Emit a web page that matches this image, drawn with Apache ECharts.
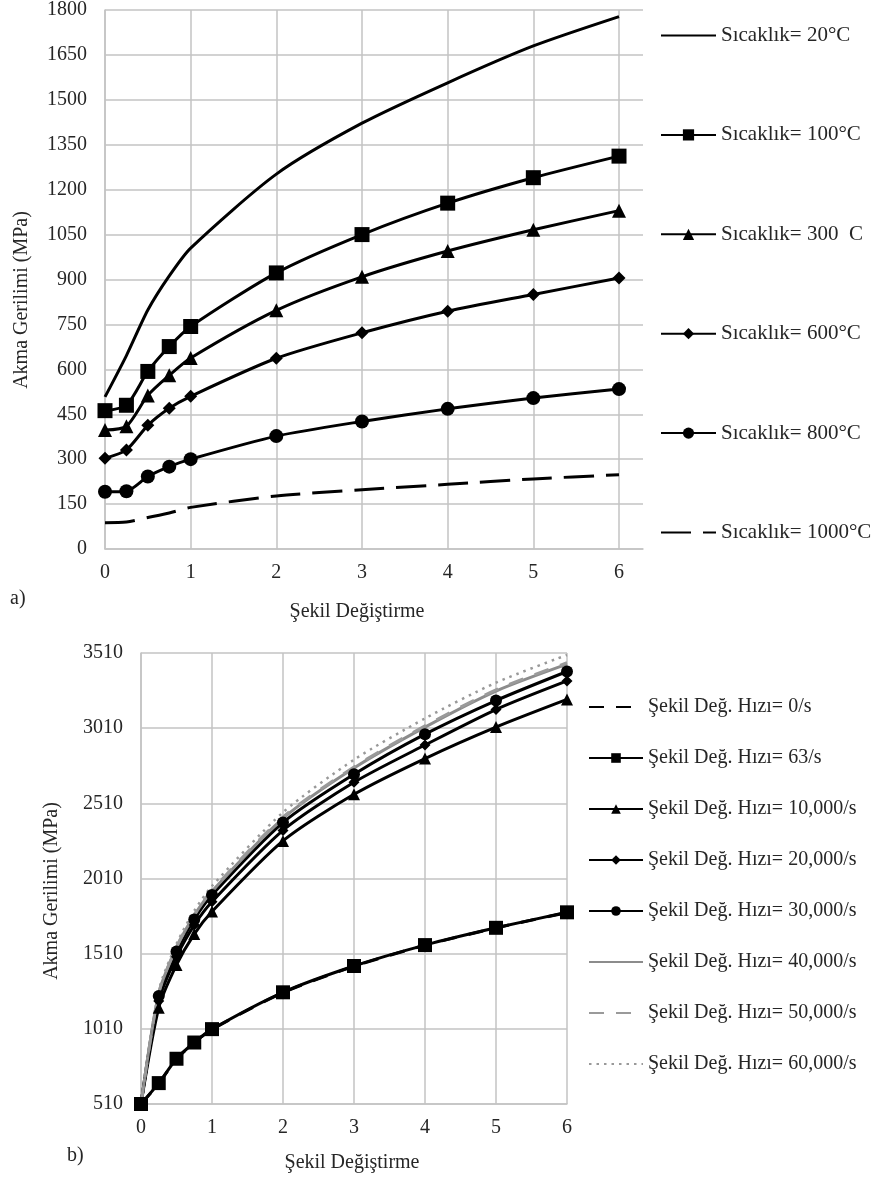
<!DOCTYPE html>
<html>
<head>
<meta charset="utf-8">
<script src="https://cdn.jsdelivr.net/npm/echarts@6/dist/echarts.min.js"></script>
<style>
  html, body { margin: 0; padding: 0; background: #fff; }
  #chart { width: 877px; height: 1180px; }
</style>
</head>
<body>
<div id="chart"></div>
<script>
// ---------- Data: panel a) ----------
const strainA = [0, 0.25, 0.5, 0.75, 1, 2, 3, 4, 5, 6];
const namesA = ['Sıcaklık= 20°C', 'Sıcaklık= 100°C', 'Sıcaklık= 300  C', 'Sıcaklık= 600°C', 'Sıcaklık= 800°C', 'Sıcaklık= 1000°C'];
const temp20 = [508, 646, 798, 912, 1005, 1252, 1422, 1557, 1680, 1778];
const temp100 = [462, 480, 593, 676, 743, 922, 1050, 1155, 1240, 1312];
const temp300 = [397, 410, 513, 580, 638, 797, 909, 995, 1066, 1130];
const temp600 = [303, 331, 413, 470, 510, 637, 722, 794, 850, 905];
const temp800 = [191, 193, 242, 275, 300, 377, 426, 468, 504, 534];
const temp1000 = [88, 90, 105, 120, 139, 177, 198, 216, 234, 248];
const xTicksA = [0, 1, 2, 3, 4, 5, 6];
const yTicksA = [0, 150, 300, 450, 600, 750, 900, 1050, 1200, 1350, 1500, 1650, 1800];

// ---------- Data: panel b) ----------
const strainB = [0, 0.25, 0.5, 0.75, 1, 2, 3, 4, 5, 6];
const namesB = ['Şekil Değ. Hızı= 0/s', 'Şekil Değ. Hızı= 63/s', 'Şekil Değ. Hızı= 10,000/s', 'Şekil Değ. Hızı= 20,000/s', 'Şekil Değ. Hızı= 30,000/s', 'Şekil Değ. Hızı= 40,000/s', 'Şekil Değ. Hızı= 50,000/s', 'Şekil Değ. Hızı= 60,000/s'];
const rate0 = [510, 647, 809, 918, 1006, 1251, 1426, 1566, 1681, 1783];
const rate63 = [510, 649, 811, 919, 1008, 1253, 1428, 1567, 1682, 1785];
const rate10k = [510, 1150, 1435, 1640, 1790, 2260, 2570, 2808, 3017, 3201];
const rate20k = [510, 1195, 1490, 1700, 1855, 2330, 2650, 2898, 3134, 3324];
const rate30k = [510, 1228, 1525, 1738, 1900, 2382, 2703, 2970, 3194, 3387];
const rate40k = [510, 1245, 1550, 1765, 1925, 2410, 2745, 3017, 3257, 3436];
const rate50k = [510, 1250, 1555, 1770, 1932, 2418, 2752, 3025, 3265, 3445];
const rate60k = [510, 1265, 1575, 1795, 1960, 2450, 2800, 3075, 3313, 3497];
const xTicksB = [0, 1, 2, 3, 4, 5, 6];
const yTicksB = [510, 1010, 1510, 2010, 2510, 3010, 3510];

// series drawn without markers (legend shows only the line)
const noMarker = ['Sıcaklık= 20°C', 'Sıcaklık= 1000°C', 'Şekil Değ. Hızı= 0/s', 'Şekil Değ. Hızı= 40,000/s', 'Şekil Değ. Hızı= 50,000/s', 'Şekil Değ. Hızı= 60,000/s'];

// ---------- Styling ----------
const FONT = '"Liberation Serif", "Times New Roman", Times, serif';
const TXT = '#262626';
const GRID = '#c3c3c3';

const pairs = (xs, ys) => xs.map((x, i) => [x, ys[i]]);

function lineSeries(name, xs, ys, idx, opts) {
  return Object.assign({
    name: name,
    type: 'line',
    xAxisIndex: idx,
    yAxisIndex: idx,
    data: pairs(xs, ys),
    smooth: 0.25,
    symbol: 'none',
    symbolSize: 12,
    showSymbol: true,
    animation: false,
    itemStyle: { color: '#000' },
    lineStyle: { color: '#000', width: 3, type: 'solid' }
  }, opts);
}

const plainNum = v => String(v);

function valueAxisX(idx, max, ticks, margin) {
  return {
    type: 'value', gridIndex: idx, min: 0, max: max,
    axisLine: { show: true, lineStyle: { color: GRID, width: 1.5 } },
    axisTick: { show: false, customValues: ticks },
    axisLabel: { customValues: ticks, formatter: plainNum, color: TXT, fontFamily: FONT, fontSize: 20, margin: margin },
    splitLine: { show: true, lineStyle: { color: GRID, width: 1.5 } }
  };
}
function valueAxisY(idx, min, max, ticks, margin) {
  return {
    type: 'value', gridIndex: idx, min: min, max: max,
    axisLine: { show: true, lineStyle: { color: GRID, width: 1.5 } },
    axisTick: { show: false, customValues: ticks },
    axisLabel: { customValues: ticks, formatter: plainNum, color: TXT, fontFamily: FONT, fontSize: 20, margin: margin },
    splitLine: { show: true, lineStyle: { color: GRID, width: 1.5 } }
  };
}

const seriesA = [
  lineSeries(namesA[0], strainA, temp20, 0, {}),
  lineSeries(namesA[1], strainA, temp100, 0, { symbol: 'rect', symbolSize: 15 }),
  lineSeries(namesA[2], strainA, temp300, 0, { symbol: 'triangle', symbolSize: 14 }),
  lineSeries(namesA[3], strainA, temp600, 0, { symbol: 'diamond', symbolSize: 13 }),
  lineSeries(namesA[4], strainA, temp800, 0, { symbol: 'circle', symbolSize: 14 }),
  lineSeries(namesA[5], strainA, temp1000, 0, { lineStyle: { color: '#000', width: 3, type: [30, 12] } })
];

const GRAY = '#8c8c8c';
const seriesB = [
  lineSeries(namesB[0], strainB, rate0, 1, { lineStyle: { color: '#000', width: 3, type: [15, 12] } }),
  lineSeries(namesB[1], strainB, rate63, 1, { symbol: 'rect', symbolSize: 14 }),
  lineSeries(namesB[2], strainB, rate10k, 1, { symbol: 'triangle', symbolSize: 12 }),
  lineSeries(namesB[3], strainB, rate20k, 1, { symbol: 'diamond', symbolSize: 11 }),
  lineSeries(namesB[4], strainB, rate30k, 1, { symbol: 'circle', symbolSize: 12 }),
  lineSeries(namesB[5], strainB, rate40k, 1, { itemStyle: { color: GRAY }, lineStyle: { color: GRAY, width: 3, type: 'solid' } }),
  lineSeries(namesB[6], strainB, rate50k, 1, { itemStyle: { color: '#9a9a9a' }, lineStyle: { color: '#9a9a9a', width: 3, type: [15, 12] } }),
  lineSeries(namesB[7], strainB, rate60k, 1, { itemStyle: { color: '#999' }, lineStyle: { color: '#999', width: 2.5, type: [2.5, 5] } })
];

const legendItems = names => names.map(n => noMarker.indexOf(n) >= 0 ? { name: n, itemStyle: { opacity: 0 } } : { name: n });

const option = {
  backgroundColor: '#ffffff',
  animation: false,
  textStyle: { fontFamily: FONT },
  grid: [
    { left: 105, top: 10, width: 538, height: 539 },
    { left: 141, top: 653, width: 426, height: 451 }
  ],
  xAxis: [
    valueAxisX(0, 6.28, xTicksA, 14),
    valueAxisX(1, 6, xTicksB, 14)
  ],
  yAxis: [
    valueAxisY(0, 0, 1800, yTicksA, 18),
    valueAxisY(1, 510, 3510, yTicksB, 18)
  ],
  legend: [
    {
      data: legendItems(namesA), orient: 'vertical', left: 655, top: 20,
      itemWidth: 55, itemHeight: 14, itemGap: 78.4,
      textStyle: { color: TXT, fontFamily: FONT, fontSize: 21, lineHeight: 20 },
      selectedMode: false
    },
    {
      data: legendItems(namesB), orient: 'vertical', left: 583, top: 692,
      itemWidth: 54, itemHeight: 12, itemGap: 31,
      textStyle: { color: TXT, fontFamily: FONT, fontSize: 20, lineHeight: 20 },
      selectedMode: false
    }
  ],
  graphic: [
    { type: 'text', left: 10, top: 589, style: { text: 'a)', fontFamily: FONT, fontSize: 20, fill: TXT } },
    { type: 'text', x: 357, y: 612, style: { text: 'Şekil Değiştirme', fontFamily: FONT, fontSize: 20, fill: TXT, align: 'center', verticalAlign: 'middle' } },
    { type: 'text', x: 22, y: 300, rotation: Math.PI / 2, style: { text: 'Akma Gerilimi (MPa)', fontFamily: FONT, fontSize: 20, fill: TXT, align: 'center', verticalAlign: 'middle' } },
    { type: 'text', left: 67, top: 1146, style: { text: 'b)', fontFamily: FONT, fontSize: 20, fill: TXT } },
    { type: 'text', x: 352, y: 1163, style: { text: 'Şekil Değiştirme', fontFamily: FONT, fontSize: 20, fill: TXT, align: 'center', verticalAlign: 'middle' } },
    { type: 'text', x: 52, y: 891, rotation: Math.PI / 2, style: { text: 'Akma Gerilimi (MPa)', fontFamily: FONT, fontSize: 20, fill: TXT, align: 'center', verticalAlign: 'middle' } }
  ],
  series: seriesA.concat(seriesB)
};

const chart = echarts.init(document.getElementById('chart'), null, { renderer: 'canvas' });
chart.setOption(option);
</script>
</body>
</html>
